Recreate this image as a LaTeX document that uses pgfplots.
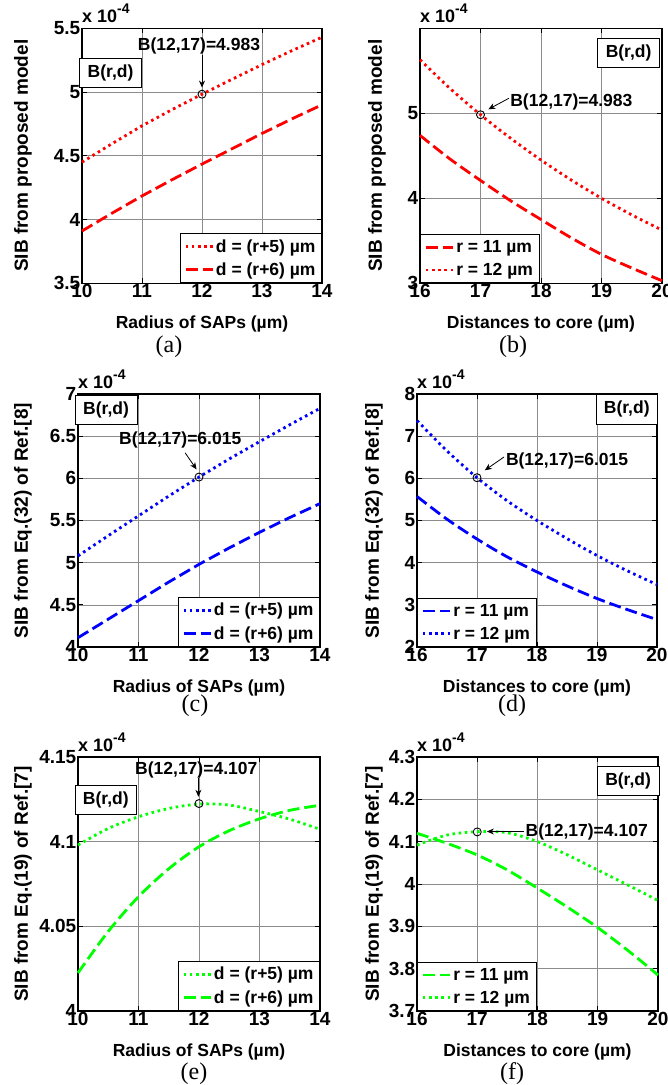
\documentclass[border=0pt]{standalone}
\usepackage{fontspec}
\setmainfont{Liberation Sans}
\newfontfamily\capfont{Liberation Serif}
\usepackage{pgfplots}
\pgfplotsset{compat=1.18}
\usetikzlibrary{arrows.meta}

\newcommand{\lf}{\bfseries\fontsize{17.5}{20}\selectfont}
\newcommand{\tf}{\bfseries\fontsize{19}{21}\selectfont}
\newcommand{\yf}{\bfseries\fontsize{19}{21}\selectfont}
\newcommand{\cf}{\capfont\fontsize{24}{26}\selectfont}
\newcommand{\supf}{\bfseries\fontsize{14}{15}\selectfont}

\tikzset{
 bbox/.style={draw=black, fill=white, line width=0.8pt, font=\lf, inner xsep=8pt, inner ysep=6.5pt},
 explab/.style={anchor=base west, inner sep=0pt, font=\bfseries\fontsize{18}{20}\selectfont},
}
\pgfplotsset{
 mystyle/.style={
  scale only axis, anchor=south west, clip=false,
  axis line style={line width=1.1pt},
  tick style={black, line width=0.8pt},
  major tick length=5pt,
  tick align=inside,
  grid=major,
  major grid style={black!45, line width=0.6pt},
  tick label style={font=\tf},
  /pgf/number format/assume math mode=true,
  xticklabel style={inner sep=1pt},
  yticklabel style={inner sep=1.5pt},
  xlabel style={font=\lf, at={(axis description cs:0.5,0)}, anchor=center, yshift=-41pt},
  scaled ticks=false,
  legend style={font=\lf, draw=black, line width=0.9pt, fill=white, inner xsep=4pt, inner ysep=4pt, row sep=5pt, cells={anchor=west}},
  legend image code/.code={\draw[#1] (0pt,0pt) -- (27pt,0pt);},
 },
 dotl/.style={line width=2.8pt, dash pattern=on 2.6pt off 3.6pt},
 dashl/.style={line width=2.8pt, dash pattern=on 12pt off 5pt},
 circ/.style={only marks, mark=o, mark size=4pt, black, mark options={line width=0.9pt}, forget plot},
}

\begin{document}
\begin{tikzpicture}
\useasboundingbox (0pt,0pt) rectangle (668pt,1085pt);

% (a)
\begin{axis}[mystyle, at={(82pt,801.7pt)}, width=240pt, height=255pt,
  xmin=10, xmax=14, ymin=3.5, ymax=5.5,
  xtick={10,11,12,13,14}, ytick={3.5,4,4.5,5,5.5},
  yticklabels={3.5,4,4.5,5,5.5},
  xlabel={Radius of SAPs (µm)},
  ylabel={SIB from proposed model},
  ylabel style={font=\yf, at={(axis description cs:-0.246,0.5)}, anchor=center},
  legend style={at={(1,0)}, anchor=south east}]
\addplot[red, dotl] coordinates {(10,4.45) (10.5,4.595) (11,4.735) (11.5,4.862) (12,4.983) (12.5,5.1) (13,5.215) (13.5,5.325) (14,5.43)};
\addlegendentry{d = (r+5) µm}
\addplot[red, dashl] coordinates {(10,3.91) (10.5,4.05) (11,4.185) (11.5,4.312) (12,4.435) (12.5,4.555) (13,4.675) (13.5,4.79) (14,4.9)};
\addlegendentry{d = (r+6) µm}
\addplot[circ] coordinates {(12,4.983)};
\node[font=\lf, inner sep=0pt] at (axis cs:11.95,5.363) {B(12,17)=4.983};
\draw[-{Stealth[length=7pt,width=6pt]}, line width=0.8pt] (axis cs:12,5.29) -- (axis cs:12,5.035);
\node[bbox] at (axis description cs:0.119,0.824) {B(r,d)};
\end{axis}

% (b)
\begin{axis}[mystyle, at={(420pt,801.7pt)}, width=242pt, height=255pt,
  xmin=16, xmax=20, ymin=3, ymax=6,
  xtick={16,17,18,19,20}, ytick={3,4,5}, yticklabels={3,4,5},
  xlabel={Distances to core (µm)},
  ylabel={SIB from proposed model},
  ylabel style={font=\yf, at={(axis description cs:-0.178,0.5)}, anchor=center},
  legend style={at={(0,0)}, anchor=south west}]
\addplot[red, dashl, smooth] coordinates {(16,4.74) (16.5,4.46) (17,4.21) (17.5,3.97) (18,3.75) (18.5,3.535) (19,3.34) (19.5,3.18) (20,3.03)};
\addlegendentry{r = 11 µm}
\addplot[red, dotl, smooth] coordinates {(16,5.63) (16.5,5.29) (17,4.983) (17.5,4.705) (18,4.45) (18.5,4.215) (19,4.0) (19.5,3.805) (20,3.625)};
\addlegendentry{r = 12 µm}
\addplot[circ] coordinates {(17,4.983)};
\node[font=\lf, inner sep=0pt, anchor=west] at (axis cs:17.49,5.137) {B(12,17)=4.983};
\draw[-{Stealth[length=7pt,width=6pt]}, line width=0.8pt] (axis cs:17.47,5.177) -- (axis cs:17.13,5.047);
\node[bbox] at (axis description cs:0.862,0.903) {B(r,d)};
\end{axis}

% (c)
\begin{axis}[mystyle, at={(78pt,438pt)}, width=242pt, height=253pt,
  xmin=10, xmax=14, ymin=4, ymax=7,
  xtick={10,11,12,13,14}, ytick={4,4.5,5,5.5,6,6.5,7},
  yticklabels={4,4.5,5,5.5,6,6.5,7},
  xlabel={Radius of SAPs (µm)},
  ylabel={SIB from Eq.(32) of Ref.[8]},
  ylabel style={font=\yf, at={(axis description cs:-0.227,0.5)}, anchor=center},
  legend style={at={(1,0)}, anchor=south east}]
\addplot[blue, dotl] coordinates {(10,5.08) (10.5,5.32) (11,5.555) (11.5,5.79) (12,6.015) (12.5,6.23) (13,6.435) (13.5,6.635) (14,6.83)};
\addlegendentry{d = (r+5) µm}
\addplot[blue, dashl] coordinates {(10,4.11) (10.5,4.33) (11,4.55) (11.5,4.77) (12,4.98) (12.5,5.175) (13,5.36) (13.5,5.535) (14,5.7)};
\addlegendentry{d = (r+6) µm}
\addplot[circ] coordinates {(12,6.015)};
\node[font=\lf, inner sep=0pt] at (axis cs:11.69,6.449) {B(12,17)=6.015};
\draw[-{Stealth[length=7pt,width=6pt]}, line width=0.8pt] (axis cs:11.77,6.303) -- (axis cs:11.96,6.106);
\node[bbox] at (axis description cs:0.116,0.936) {B(r,d)};
\end{axis}

% (d)
\begin{axis}[mystyle, at={(417pt,438pt)}, width=240pt, height=253pt,
  xmin=16, xmax=20, ymin=2, ymax=8,
  xtick={16,17,18,19,20}, ytick={2,3,4,5,6,7,8}, yticklabels={2,3,4,5,6,7,8},
  xlabel={Distances to core (µm)},
  ylabel={SIB from Eq.(32) of Ref.[8]},
  ylabel style={font=\yf, at={(axis description cs:-0.179,0.5)}, anchor=center},
  legend style={at={(0,0)}, anchor=south west}]
\addplot[blue, dashl, smooth] coordinates {(16,5.57) (16.5,5.03) (17,4.56) (17.5,4.14) (18,3.78) (18.5,3.45) (19,3.15) (19.5,2.89) (20,2.65)};
\addlegendentry{r = 11 µm}
\addplot[blue, dotl, smooth] coordinates {(16,7.37) (16.5,6.65) (17,6.015) (17.5,5.47) (18,5.0) (18.5,4.57) (19,4.17) (19.5,3.81) (20,3.48)};
\addlegendentry{r = 12 µm}
\addplot[circ] coordinates {(17,6.015)};
\node[font=\lf, inner sep=0pt, anchor=west] at (axis cs:17.48,6.411) {B(12,17)=6.015};
\draw[-{Stealth[length=7pt,width=6pt]}, line width=0.8pt] (axis cs:17.45,6.506) -- (axis cs:17.13,6.19);
\node[bbox] at (axis description cs:0.874,0.939) {B(r,d)};
\end{axis}

% (e)
\begin{axis}[mystyle, at={(78pt,74pt)}, width=242pt, height=254pt,
  xmin=10, xmax=14, ymin=4, ymax=4.15,
  xtick={10,11,12,13,14}, ytick={4,4.05,4.1,4.15}, yticklabels={4,4.05,4.1,4.15},
  xlabel={Radius of SAPs (µm)},
  ylabel={SIB from Eq.(19) of Ref.[7]},
  ylabel style={font=\yf, at={(axis description cs:-0.227,0.5)}, anchor=center},
  legend style={at={(1,0)}, anchor=south east}]
\addplot[green, dotl, smooth] coordinates {(10,4.098) (10.5,4.1078) (11,4.1147) (11.5,4.1196) (12,4.1222) (12.5,4.1216) (13,4.1178) (13.5,4.1133) (14,4.1073)};
\addlegendentry{d = (r+5) µm}
\addplot[green, dashl, smooth] coordinates {(10,4.0225) (10.5,4.047) (11,4.0675) (11.5,4.084) (12,4.097) (12.5,4.1065) (13,4.1135) (13.5,4.1185) (14,4.1215)};
\addlegendentry{d = (r+6) µm}
\addplot[circ] coordinates {(12,4.1225)};
\node[font=\lf, inner sep=0pt] at (axis cs:11.955,4.1425) {B(12,17)=4.107};
\draw[-{Stealth[length=7pt,width=6pt]}, line width=0.8pt] (axis cs:11.99,4.1376) -- (axis cs:11.99,4.1265);
\node[bbox] at (axis description cs:0.115,0.831) {B(r,d)};
\end{axis}

% (f)
\begin{axis}[mystyle, at={(417pt,74pt)}, width=241pt, height=254pt,
  xmin=16, xmax=20, ymin=3.7, ymax=4.3,
  xtick={16,17,18,19,20}, ytick={3.7,3.8,3.9,4,4.1,4.2,4.3},
  yticklabels={3.7,3.8,3.9,4,4.1,4.2,4.3},
  xlabel={Distances to core (µm)},
  ylabel={SIB from Eq.(19) of Ref.[7]},
  ylabel style={font=\yf, at={(axis description cs:-0.179,0.5)}, anchor=center},
  legend style={at={(0,0)}, anchor=south west}]
\addplot[green, dashl, smooth] coordinates {(16,4.1197) (16.5,4.096) (17,4.0685) (17.5,4.033) (18,3.99) (18.5,3.945) (19,3.897) (19.5,3.843) (20,3.785)};
\addlegendentry{r = 11 µm}
\addplot[green, dotl, smooth] coordinates {(16,4.092) (16.5,4.1157) (17,4.1236) (17.5,4.121) (18,4.1) (18.5,4.0685) (19,4.033) (19.5,3.9976) (20,3.961)};
\addlegendentry{r = 12 µm}
\addplot[circ] coordinates {(17,4.123)};
\node[font=\lf, inner sep=0pt, anchor=west] at (axis cs:17.8,4.122) {B(12,17)=4.107};
\draw[-{Stealth[length=7pt,width=6pt]}, line width=0.8pt] (axis cs:17.78,4.124) -- (axis cs:17.16,4.124);
\node[bbox] at (axis description cs:0.876,0.907) {B(r,d)};
\end{axis}

\node[explab] at (82pt,1062pt) {x 10\raisebox{0.55em}{\supf -4}};
\node[explab] at (420pt,1062pt) {x 10\raisebox{0.55em}{\supf -4}};
\node[explab] at (78pt,696pt) {x 10\raisebox{0.55em}{\supf -4}};
\node[explab] at (417pt,696pt) {x 10\raisebox{0.55em}{\supf -4}};
\node[explab] at (78pt,333pt) {x 10\raisebox{0.55em}{\supf -4}};
\node[explab] at (417pt,333pt) {x 10\raisebox{0.55em}{\supf -4}};

\node[font=\cf] at (169pt,738.3pt) {(a)};
\node[font=\cf] at (513pt,738.3pt) {(b)};
\node[font=\cf] at (195pt,379.7pt) {(c)};
\node[font=\cf] at (512pt,379.7pt) {(d)};
\node[font=\cf] at (194pt,11pt) {(e)};
\node[font=\cf] at (512pt,11pt) {(f)};
\end{tikzpicture}
\end{document}
